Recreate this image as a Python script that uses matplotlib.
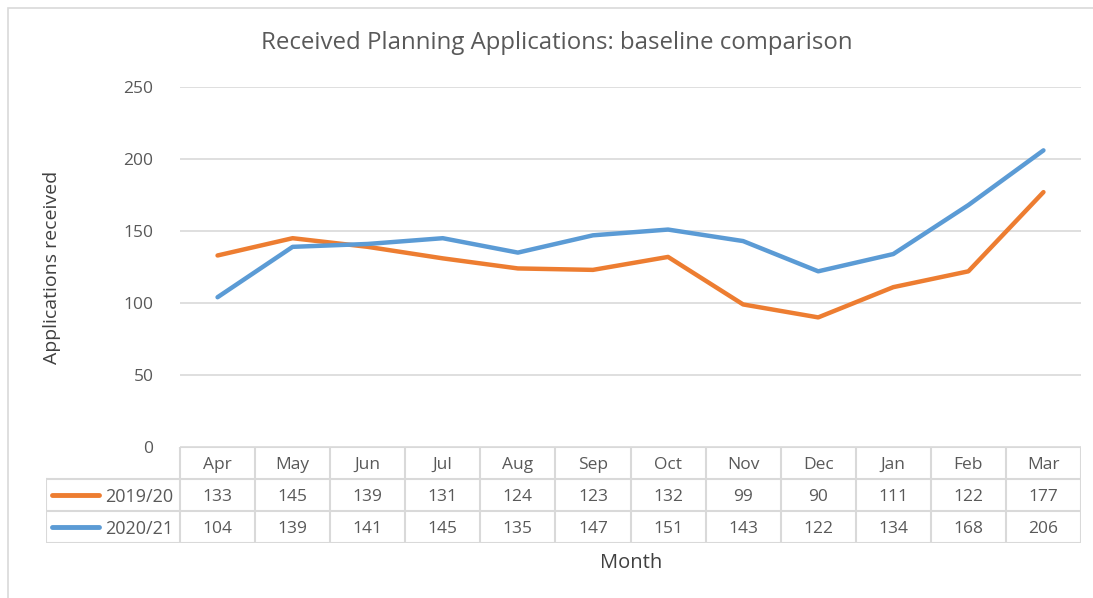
import numpy as np
import matplotlib.pyplot as plt
from matplotlib.patches import Rectangle

# ----------------------------
# Data
# ----------------------------
months = ['Apr', 'May', 'Jun', 'Jul', 'Aug', 'Sep', 'Oct', 'Nov', 'Dec', 'Jan', 'Feb', 'Mar']
series_names = ['2019/20', '2020/21']
apps_1920 = [133, 145, 139, 131, 124, 123, 132, 99, 90, 111, 122, 177]
apps_2021 = [104, 139, 141, 145, 135, 147, 151, 143, 122, 134, 168, 206]
yticks = [0, 50, 100, 150, 200, 250]

ORANGE = '#ED7D31'
BLUE = '#5B9BD5'
GRID = '#D9D9D9'
TEXT = '#595959'

plt.rcParams['font.family'] = ['Open Sans', 'DejaVu Sans']

W, H = 1093, 598
fig = plt.figure(figsize=(W / 100, H / 100), dpi=100)

def box(x0, y0, x1, y1):
    # pixel box (top-left origin) -> figure fraction
    return [x0 / W, 1 - y1 / H, (x1 - x0) / W, (y1 - y0) / H]

# outer chart border
fig.add_artist(Rectangle((8 / W, -0.1), 1.2, 1 - 8 / H + 0.1, transform=fig.transFigure,
                         fill=False, edgecolor=GRID, linewidth=1.2))

# ----------------------------
# Line plot
# ----------------------------
px_left, px_right = 180, 1081
ax = fig.add_axes(box(px_left, 87, px_right, 447))
x = np.arange(len(months))
ax.plot(x, apps_1920, color=ORANGE, linewidth=3.2, solid_capstyle='round')
ax.plot(x, apps_2021, color=BLUE, linewidth=3.2, solid_capstyle='round')
ax.set_xlim(-0.5, len(months) - 0.5)
ax.set_ylim(0, 250)
ax.set_yticks(yticks)
ax.set_yticklabels([str(v) for v in yticks], color=TEXT, fontsize=12.5)
ax.tick_params(axis='y', length=0, pad=19)
ax.set_xticks([])
ax.grid(axis='y', color=GRID, linewidth=1.2)
ax.set_axisbelow(True)
for s in ax.spines.values():
    s.set_visible(False)

fig.text(557 / W, 1 - 43 / H, 'Received Planning Applications: baseline comparison',
         ha='center', va='center', fontsize=17.3, color=TEXT)
fig.text(52 / W, 1 - 267 / H, 'Applications received', rotation=90,
         ha='center', va='center', fontsize=14, color='#404040')
fig.text(631 / W, 1 - 563 / H, 'Month', ha='center', va='center', fontsize=14.5, color='#404040')

# ----------------------------
# Data table
# ----------------------------
col_w = (px_right - px_left) / len(months)
tab_left = 46
xmin = -0.5 - (px_left - tab_left) / col_w
tax = fig.add_axes(box(tab_left, 447, px_right, 543))
tax.set_xlim(xmin, len(months) - 0.5)
tax.set_ylim(3, 0)
tax.axis('off')

lw = 1.5
# horizontal lines
tax.plot([-0.5, len(months) - 0.5], [0, 0], color=GRID, lw=lw)
for yy in [1, 2, 3]:
    tax.plot([xmin, len(months) - 0.5], [yy, yy], color=GRID, lw=lw)
# vertical lines
tax.plot([xmin, xmin], [1, 3], color=GRID, lw=lw)
for i in range(len(months) + 1):
    tax.plot([i - 0.5, i - 0.5], [0, 3], color=GRID, lw=lw)

fs = 12.5
dy = 0.05
for i, m in enumerate(months):
    tax.text(i, 0.5 + dy, m, ha='center', va='center', fontsize=fs, color=TEXT)
    tax.text(i, 1.5 + dy, str(apps_1920[i]), ha='center', va='center', fontsize=fs, color=TEXT)
    tax.text(i, 2.5 + dy, str(apps_2021[i]), ha='center', va='center', fontsize=fs, color=TEXT)

for row, (name, col) in enumerate(zip(series_names, [ORANGE, BLUE])):
    yy = row + 1.5
    tax.plot([xmin + 0.08, xmin + 0.71], [yy, yy], color=col, lw=3.5, solid_capstyle='round')
    tax.text(-0.59, yy + dy, name, ha='right', va='center', fontsize=13, color=TEXT)

fig.savefig('out.png', dpi=100)
